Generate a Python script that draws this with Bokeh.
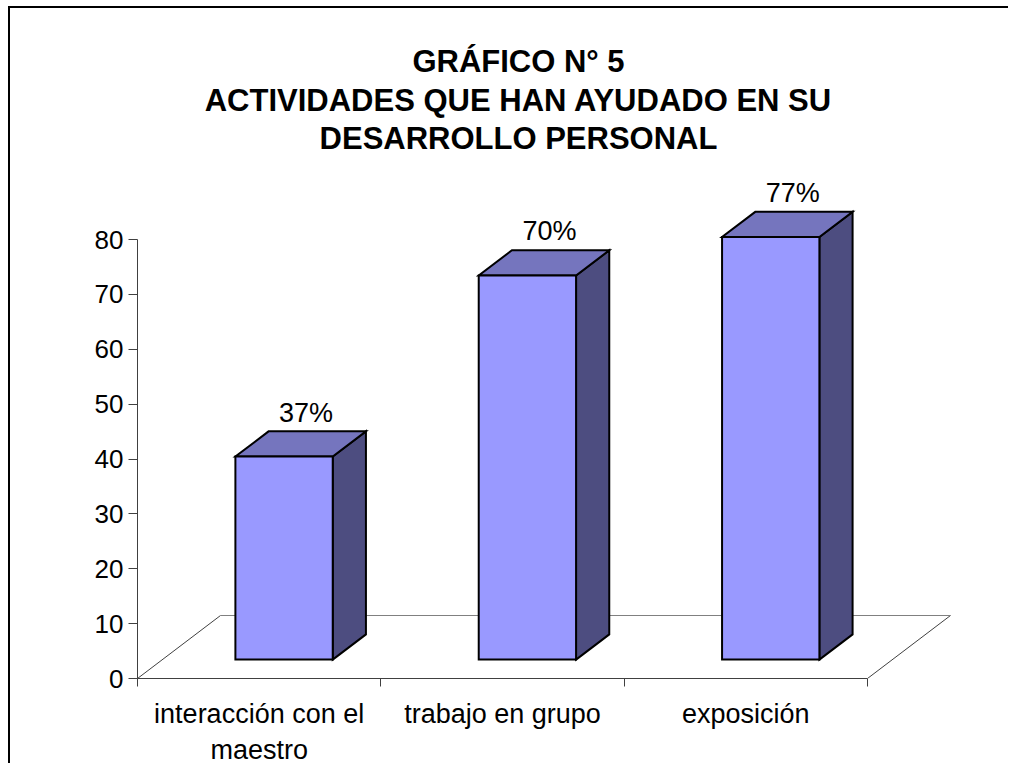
from bokeh.plotting import figure
from bokeh.models import Range1d, FixedTicker, LinearAxis
from bokeh.core.properties import value
from bokeh.embed import file_html
from bokeh.resources import INLINE

# ---- data ----
title_lines = ["GRÁFICO N° 5", "ACTIVIDADES QUE HAN AYUDADO EN SU", "DESARROLLO PERSONAL"]
categories = ["interacción con el\nmaestro", "trabajo en grupo", "exposición"]
values = [37, 70, 77]
value_labels = ["37%", "70%", "77%"]
y_ticks = [0, 10, 20, 30, 40, 50, 60, 70, 80]

# ---- layout constants (pixels) ----
OX, OY = 10, 8              # page offset of canvas (margin + border)
AX_X, AX_Y = 137, 678       # page position of the data origin
X_PX = 243.33               # pixels per category
Y_PX = 5.4875               # pixels per value unit
DEPTH_X, DEPTH_Y = 83, 63   # floor depth in pixels
F0, F1 = 0.30, 0.70         # bar depth span (fraction of floor depth)
BAR_W = 0.4
FRAME_W = 871

left_px = AX_X - OX
frame_h = AX_Y - OY
x_end = FRAME_W / X_PX
y_end = frame_h / Y_PX
ddx = DEPTH_X / X_PX
ddy = DEPTH_Y / Y_PX
n = len(categories)

p = figure(frame_width=FRAME_W, frame_height=frame_h, output_backend="svg",
           toolbar_location=None,
           x_range=Range1d(0, x_end), y_range=Range1d(0, y_end),
           x_axis_location=None, y_axis_location=None,
           min_border_left=left_px, min_border_right=0, min_border_top=0,
           min_border_bottom=0, outline_line_color=None,
           background_fill_color="white", border_fill_color="white")
p.grid.visible = False
p.styles = {"margin-left": "8px", "margin-top": "6px",
            "border-left": "2px solid black", "border-top": "2px solid black"}

AXC = "#404040"
FONT = "Liberation Sans"

yaxis = LinearAxis(ticker=FixedTicker(ticks=y_ticks, minor_ticks=[]), bounds=(0, y_ticks[-1]))
yaxis.major_tick_in = 0
yaxis.major_tick_out = 9
yaxis.minor_tick_in = 0
yaxis.minor_tick_out = 0
yaxis.axis_line_color = AXC
yaxis.major_tick_line_color = AXC
yaxis.major_label_text_font = FONT
yaxis.major_label_text_font_size = "26px"
yaxis.major_label_text_color = "black"
yaxis.major_label_standoff = 5
p.add_layout(yaxis, "left")

centers = [i + 0.5 for i in range(n)]
xaxis = LinearAxis(ticker=FixedTicker(ticks=centers, minor_ticks=list(range(n + 1))), bounds=(0, n))
xaxis.major_label_overrides = {c: lab for c, lab in zip(centers, categories)}
xaxis.major_tick_in = 0
xaxis.major_tick_out = 0
xaxis.minor_tick_in = 0
xaxis.minor_tick_out = 8
xaxis.axis_line_color = AXC
xaxis.minor_tick_line_color = AXC
xaxis.major_tick_line_color = None
xaxis.major_label_text_font = FONT
xaxis.major_label_text_font_size = "27px"
xaxis.major_label_text_color = "black"
xaxis.major_label_standoff = 12
p.add_layout(xaxis, "below")

# ---- floor ----
p.segment(x0=[0, n], y0=[0, 0], x1=[ddx, n + ddx], y1=[ddy, ddy],
          line_color=AXC, line_width=1)
p.segment(x0=[ddx], y0=[ddy], x1=[n + ddx], y1=[ddy], line_color="#808080", line_width=1)

# ---- bars ----
bx = F0 * ddx
by = F0 * ddy
sx = (F1 - F0) * ddx
sy = (F1 - F0) * ddy
lefts = [c + bx - BAR_W / 2 for c in centers]
rights = [c + bx + BAR_W / 2 for c in centers]
tops = [v + by for v in values]

side_xs = [[r, r + sx, r + sx, r] for r in rights]
side_ys = [[by, by + sy, t + sy, t] for t in tops]
top_xs = [[l, r, r + sx, l + sx] for l, r in zip(lefts, rights)]
top_ys = [[t, t, t + sy, t + sy] for t in tops]

p.patches(xs=side_xs, ys=side_ys, fill_color="#4D4D80", line_color="black", line_width=2,
          line_join="miter")
p.patches(xs=top_xs, ys=top_ys, fill_color="#7575BE", line_color="black", line_width=2,
          line_join="miter")
p.quad(left=lefts, right=rights, bottom=[by] * n, top=tops, fill_color="#9999FF",
       line_color="black", line_width=2, line_join="miter")

# ---- value labels ----
lab_dx = 22 / X_PX
lab_dy = 44 / Y_PX
p.text(x=[c + bx + lab_dx for c in centers], y=[t + lab_dy for t in tops], text=value_labels,
       text_align="center", text_baseline="alphabetic", text_font=value(FONT),
       text_font_size="27px", text_color="black")

# ---- title ----
title_cx = (518 - AX_X) / X_PX
title_base = [61, 100, 138]
p.text(x=[title_cx] * 3, y=[(AX_Y - b) / Y_PX for b in title_base], text=title_lines,
       text_align="center", text_baseline="alphabetic", text_font=value(FONT),
       text_font_style="bold", text_font_size="31px", text_color="black")

open("out.html", "w").write(file_html(p, INLINE))
